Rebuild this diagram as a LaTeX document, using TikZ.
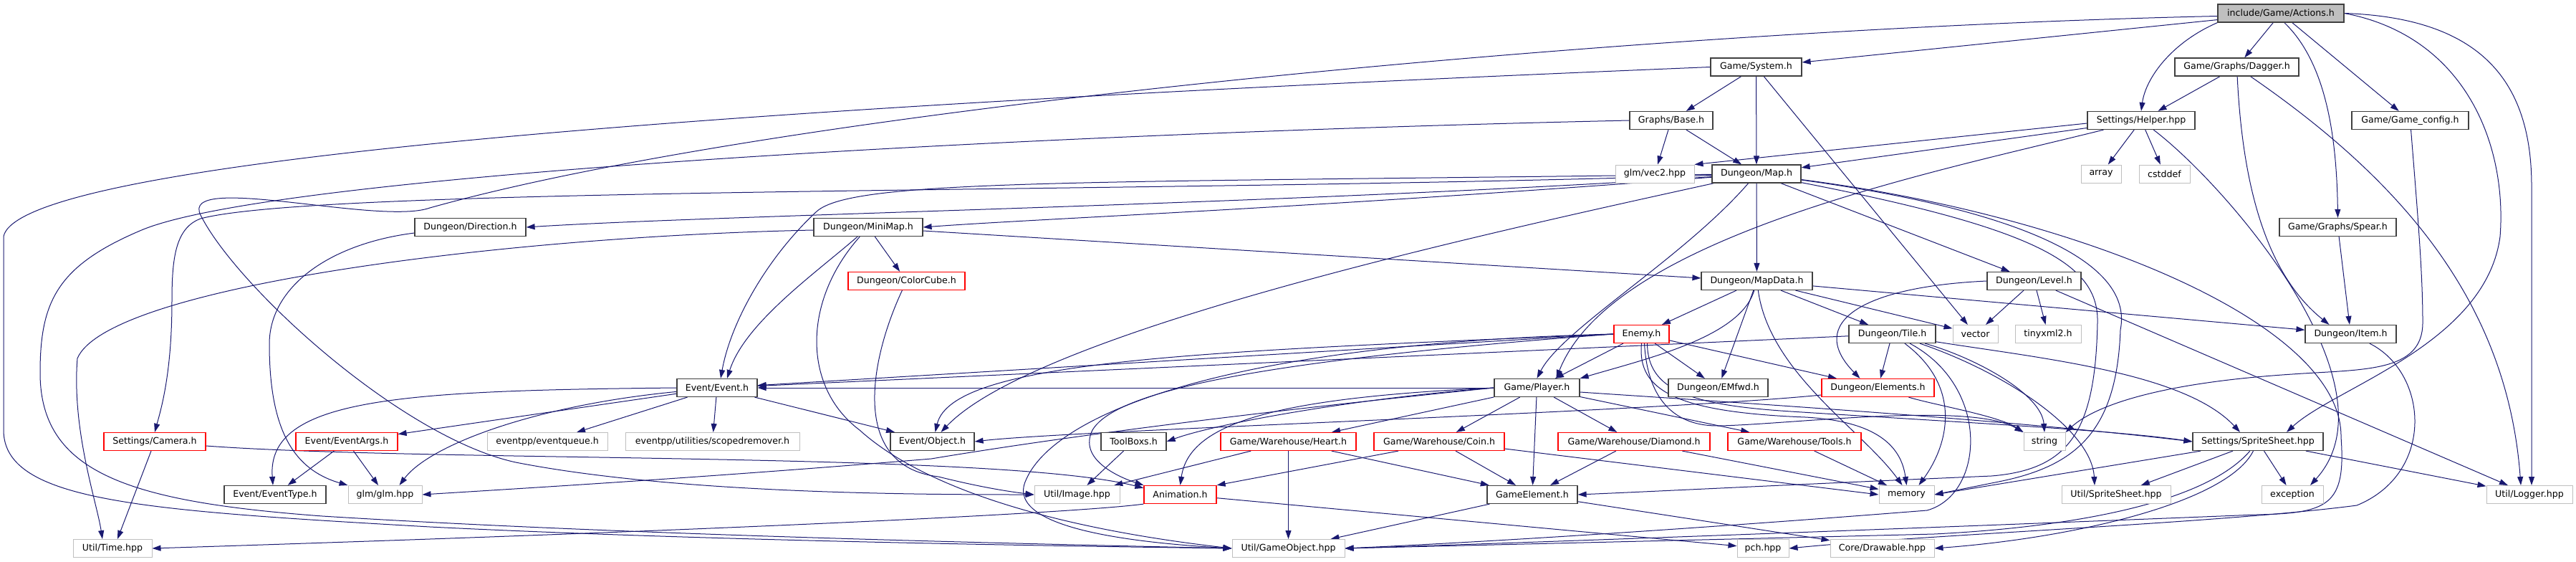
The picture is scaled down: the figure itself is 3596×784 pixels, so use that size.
\documentclass[tikz,border=0pt]{standalone}
\usepackage{fontspec}
\setmainfont{DejaVu Sans}
\usepackage{xcolor}
\definecolor{depEdge}{HTML}{191970}
\definecolor{fileDraw}{HTML}{404040}
\definecolor{sysDraw}{HTML}{BFBFBF}
\definecolor{rootFill}{HTML}{BFBFBF}
\definecolor{cutDraw}{HTML}{FF0000}
\usetikzlibrary{arrows.meta,backgrounds}
\newcommand{\graphfont}{\fontsize{12.6}{15}\selectfont}
\tikzset{
  filebox/.style={draw=fileDraw, fill=white, line width=1.2pt, minimum height=25pt, inner sep=0pt, font=\graphfont},
  cutbox/.style={filebox, draw=cutDraw},
  sysbox/.style={filebox, draw=sysDraw, line width=1pt},
  rootbox/.style={filebox, fill=rootFill},
  dep/.style={depEdge, line width=1pt, -{Triangle[length=12pt,width=8pt]}}
}

\begin{document}
\begin{tikzpicture}[x=1pt, y=-1pt]
  \useasboundingbox (0,0) rectangle (3596,784);
  \node[rootbox, minimum width=176pt] (actions) at (3184,18.5) {include/Game/Actions.h};
  \node[filebox, minimum width=127pt] (system) at (2451.5,93.5) {Game/System.h};
  \node[filebox, minimum width=173pt] (dagger) at (3122.5,93.5) {Game/Graphs/Dagger.h};
  \node[filebox, minimum width=116pt] (base) at (2333,168) {Graphs/Base.h};
  \node[filebox, minimum width=150pt] (helper) at (2989,168) {Settings/Helper.hpp};
  \node[filebox, minimum width=163pt] (gameconfig) at (3364.5,168) {Game/Game\_config.h};
  \node[sysbox, minimum width=110pt] (vec2) at (2310,242.5) {glm/vec2.hpp};
  \node[filebox, minimum width=124pt] (map) at (2452,242.5) {Dungeon/Map.h};
  \node[sysbox, minimum width=56pt] (array) at (2933,242.5) {array};
  \node[sysbox, minimum width=71pt] (cstddef) at (3021.5,242.5) {cstddef};
  \node[filebox, minimum width=155pt] (direction) at (656.5,317) {Dungeon/Direction.h};
  \node[filebox, minimum width=152pt] (minimap) at (1212,317) {Dungeon/MiniMap.h};
  \node[filebox, minimum width=163pt] (spear) at (3263.5,317) {Game/Graphs/Spear.h};
  \node[cutbox, minimum width=163pt] (colorcube) at (1265.5,392) {Dungeon/ColorCube.h};
  \node[filebox, minimum width=155pt] (mapdata) at (2452.5,392) {Dungeon/MapData.h};
  \node[filebox, minimum width=131pt] (level) at (2839.5,392) {Dungeon/Level.h};
  \node[cutbox, minimum width=77pt] (enemy) at (2291.5,466) {Enemy.h};
  \node[filebox, minimum width=121pt] (tile) at (2641.5,466) {Dungeon/Tile.h};
  \node[sysbox, minimum width=63pt] (vector) at (2757.5,466) {vector};
  \node[sysbox, minimum width=92pt] (tinyxml) at (2859,466) {tinyxml2.h};
  \node[filebox, minimum width=127pt] (item) at (3281.5,466) {Dungeon/Item.h};
  \node[filebox, minimum width=112pt] (event) at (1001,541) {Event/Event.h};
  \node[filebox, minimum width=119pt] (player) at (2145.5,541) {Game/Player.h};
  \node[filebox, minimum width=139pt] (emfwd) at (2398.5,541) {Dungeon/EMfwd.h};
  \node[cutbox, minimum width=157pt] (elements) at (2621.5,541) {Dungeon/Elements.h};
  \node[cutbox, minimum width=142pt] (camera) at (216,616) {Settings/Camera.h};
  \node[cutbox, minimum width=142pt] (eventargs) at (484,616) {Event/EventArgs.h};
  \node[sysbox, minimum width=168pt] (eventqueue) at (764,616) {eventpp/eventqueue.h};
  \node[sysbox, minimum width=243pt] (scoped) at (994.5,616) {eventpp/utilities/scopedremover.h};
  \node[filebox, minimum width=117pt] (object) at (1301.5,616) {Event/Object.h};
  \node[filebox, minimum width=91pt] (toolboxs) at (1582.5,616) {ToolBoxs.h};
  \node[cutbox, minimum width=189pt] (heart) at (1798.5,616) {Game/Warehouse/Heart.h};
  \node[cutbox, minimum width=182pt] (coin) at (2009,616) {Game/Warehouse/Coin.h};
  \node[cutbox, minimum width=212pt] (diamond) at (2281,616) {Game/Warehouse/Diamond.h};
  \node[cutbox, minimum width=186pt] (tools) at (2505,616) {Game/Warehouse/Tools.h};
  \node[sysbox, minimum width=58pt] (string) at (2854,616) {string};
  \node[filebox, minimum width=182pt] (spritesheet) at (3152,616) {Settings/SpriteSheet.hpp};
  \node[filebox, minimum width=142pt] (eventtype) at (384,690) {Event/EventType.h};
  \node[sysbox, minimum width=103pt] (glm) at (537.5,690) {glm/glm.hpp};
  \node[sysbox, minimum width=119pt] (image) at (1503.5,690) {Util/Image.hpp};
  \node[cutbox, minimum width=101pt] (animation) at (1647.5,690) {Animation.h};
  \node[filebox, minimum width=126pt] (gameelement) at (2139,690) {GameElement.h};
  \node[sysbox, minimum width=77pt] (memory) at (2661.5,690) {memory};
  \node[sysbox, minimum width=152pt] (utilsprite) at (2954,690) {Util/SpriteSheet.hpp};
  \node[sysbox, minimum width=86pt] (exception) at (3200,690) {exception};
  \node[sysbox, minimum width=120pt] (logger) at (3531,690) {Util/Logger.hpp};
  \node[sysbox, minimum width=110pt] (time) at (157,765) {Util/Time.hpp};
  \node[sysbox, minimum width=157pt] (gameobject) at (1798.5,765) {Util/GameObject.hpp};
  \node[sysbox, minimum width=72pt] (pch) at (2461,765) {pch.hpp};
  \node[sysbox, minimum width=145pt] (drawable) at (2627.5,765) {Core/Drawable.hpp};

  \begin{scope}[on background layer]
  \draw[dep] (actions) -- (system);
  \draw[dep] (actions) -- (dagger);
  \draw[dep] (actions.south west) .. controls (3030,60) and (2995,110) .. (helper.north);
  \draw[dep] (actions) -- (gameconfig);
  \draw[dep] (actions.290) .. controls (3250,90) and (3262,200) .. (spear.north);
  \draw[dep] (actions.east) .. controls (3440,50) and (3500,200) .. (3490,330) .. controls (3470,480) and (3260,540) .. ([xshift=40pt]spritesheet.north);
  \draw[dep] (actions.east) .. controls (3460,25) and (3534,110) .. (3534,260) -- ([xshift=3pt]logger.north);
  \draw[dep] ([yshift=-4pt]actions.west) .. controls (2300,40) and (1100,150) .. (600,290) .. controls (530,315) and (250,240) .. (280,300) .. controls (330,400) and (560,610) .. (720,645) .. controls (950,690) and (1300,690) .. (image.west);
  \draw[dep] (system) -- (base);
  \draw[dep] (system) -- (map);
  \draw[dep] (system) -- (vector);
  \draw[dep] (system.west) .. controls (1500,130) and (30,200) .. (5,330) -- (5,600) .. controls (5,700) and (200,712) .. (600,735) .. controls (1000,755) and (1500,762) .. (gameobject.west);
  \draw[dep] (dagger) -- (helper);
  \draw[dep] (dagger) .. controls (3130,250) and (3160,380) .. ([xshift=-30pt]item.north);
  \draw[dep] (dagger) .. controls (3350,250) and (3500,420) .. ([xshift=-12pt]logger.north);
  \draw[dep] (base) -- (vec2);
  \draw[dep] (base) -- (map);
  \draw[dep] (base.west) .. controls (1500,185) and (400,240) .. (200,320) .. controls (80,370) and (56,420) .. (56,520) .. controls (56,660) and (180,700) .. (450,720) .. controls (900,748) and (1500,760) .. (gameobject.west);
  \draw[dep] (helper) -- (map);
  \draw[dep] ([yshift=-4pt]helper.west) -- (vec2.north east);
  \draw[dep] (helper) -- (array);
  \draw[dep] (helper) -- (cstddef);
  \draw[dep] (helper) .. controls (2700,240) and (2250,330) .. ([xshift=27pt]player.north);
  \draw[dep] (helper) .. controls (3110,260) and (3350,540) .. ([xshift=25pt]exception.north);
  \draw[dep] (gameconfig) .. controls (3375,300) and (3382,380) .. (3382,450) .. controls (3382,520) and (3300,515) .. (3200,522) .. controls (3000,535) and (2920,570) .. (string.north east);
  \draw[dep] (spear) -- (item);
  \draw[dep] (map) .. controls (1800,285) and (1000,300) .. (direction.east);
  \draw[dep] (map) .. controls (1800,292) and (1450,305) .. (minimap.east);
  \draw[dep] (map) .. controls (1600,270) and (450,260) .. (280,305) .. controls (245,318) and (240,360) .. (240,420) .. controls (240,520) and (225,570) .. (camera.north);
  \draw[dep] (map) .. controls (1500,255) and (1190,250) .. (1140,295) .. controls (1070,360) and (1020,450) .. ([xshift=5pt]event.north);
  \draw[dep] (map) .. controls (2100,320) and (1450,460) .. ([xshift=12pt]object.north);
  \draw[dep] (map) .. controls (2350,360) and (2180,460) .. (player.north);
  \draw[dep] (map) -- (mapdata);
  \draw[dep] (map) -- (level);
  \draw[dep] (map) .. controls (2800,290) and (2980,360) .. (2960,460) .. controls (2955,600) and (2900,650) .. (2790,672) -- (memory.east);
  \draw[dep] (map) .. controls (2850,320) and (2930,370) .. (2928,450) .. controls (2925,600) and (2890,655) .. (2780,664) .. controls (2500,676) and (2300,686) .. (gameelement.east);
  \draw[dep] (map) .. controls (2900,300) and (3270,450) .. (3268,610) .. controls (3275,705) and (3250,716) .. (3150,718) .. controls (2800,732) and (2200,755) .. (gameobject.east);
  \draw[dep] (mapdata) -- (enemy);
  \draw[dep] (mapdata) .. controls (2430,470) and (2300,500) .. (player.north east);
  \draw[dep] (mapdata) -- (emfwd);
  \draw[dep] (mapdata) -- (tile);
  \draw[dep] (mapdata) .. controls (2470,520) and (2600,600) .. ([xshift=-6pt]memory.north);
  \draw[dep] (mapdata) -- (vector);
  \draw[dep] (mapdata) -- (item);
  \draw[dep] (level) -- (vector);
  \draw[dep] (level) -- (tinyxml);
  \draw[dep] (level.west) .. controls (2600,400) and (2520,450) .. ([xshift=-25pt]elements.north);
  \draw[dep] (level) -- (logger);
  \draw[dep] (tile) -- (event);
  \draw[dep] (tile) -- (elements);
  \draw[dep] (tile) .. controls (2760,500) and (2850,550) .. (string.north);
  \draw[dep] (tile) .. controls (2740,540) and (2720,620) .. ([xshift=17pt]memory.north);
  \draw[dep] (tile.-10) .. controls (2850,500) and (3050,520) .. ([xshift=-25pt]spritesheet.north);
  \draw[dep] (tile) .. controls (2800,520) and (2920,600) .. ([xshift=-30pt]utilsprite.north);
  \draw[dep] (tile) .. controls (2780,540) and (2770,690) .. (2690,712) .. controls (2400,735) and (2100,755) .. (gameobject.east);
  \draw[dep] (enemy) -- (player);
  \draw[dep] (enemy) -- (emfwd);
  \draw[dep] (enemy) -- (elements);
  \draw[dep] (enemy.west) -- (event);
  \draw[dep] (enemy.west) .. controls (1700,490) and (1330,500) .. ([xshift=4pt]object.north);
  \draw[dep] (enemy.west) .. controls (1800,500) and (1560,540) .. (1525,600) .. controls (1505,640) and (1560,665) .. (animation.north west);
  \draw[dep] (enemy.west) .. controls (1700,480) and (1470,580) .. (1432,670) .. controls (1400,740) and (1600,758) .. (gameobject.west);
  \draw[dep] (enemy.south) .. controls (2285,545) and (2340,575) .. (2520,582) .. controls (2630,588) and (2655,630) .. (memory.north);
  \draw[dep] ([xshift=8pt]enemy.south) .. controls (2300,545) and (2360,565) .. (2500,574) .. controls (2750,590) and (2950,600) .. (spritesheet.west);
  \draw[dep] ([xshift=4pt]enemy.south) .. controls (2300,560) and (2340,595) .. (2400,594) .. controls (2500,592) and (2750,560) .. (string.north west);
  \draw[dep] (player.west) -- (event);
  \draw[dep] (player.west) .. controls (1900,555) and (1700,590) .. (toolboxs.east);
  \draw[dep] (player.west) .. controls (1780,555) and (1660,590) .. (animation.north);
  \draw[dep] (player.west) .. controls (1700,580) and (1450,615) .. (1300,640) .. controls (1000,665) and (750,680) .. (glm.east);
  \draw[dep] (player) -- (heart);
  \draw[dep] (player) -- (coin);
  \draw[dep] (player) -- (diamond);
  \draw[dep] (player) -- (tools);
  \draw[dep] (player) -- (gameelement);
  \draw[dep] ([yshift=-6pt]player.east) .. controls (2400,560) and (2800,585) .. (spritesheet.west);
  \draw[dep] ([yshift=-10pt]elements.west) .. controls (2300,575) and (1500,600) .. (object.east);
  \draw[dep] (elements) .. controls (2700,565) and (2790,580) .. (string.north west);
  \draw[dep] ([xshift=-57pt]coin.south) -- (animation.north east);
  \draw[dep] (coin) -- (gameelement);
  \draw[dep] ([yshift=-10pt]coin.east) -- (memory.west);
  \draw[dep] (diamond) -- (gameelement);
  \draw[dep] (diamond) -- (memory);
  \draw[dep] (tools) -- (memory);
  \draw[dep] (heart) -- (image);
  \draw[dep] (heart) -- (gameelement);
  \draw[dep] (heart) -- (gameobject);
  \draw[dep] (toolboxs) -- (image);
  \draw[dep] (animation.south west) .. controls (1500,716) and (1000,740) .. (time.east);
  \draw[dep] (animation) -- (pch);
  \draw[dep] (gameelement) -- (gameobject);
  \draw[dep] (gameelement) -- (drawable);
  \draw[dep] (spritesheet) -- (utilsprite);
  \draw[dep] (spritesheet) -- (exception);
  \draw[dep] (spritesheet) -- (logger);
  \draw[dep] (spritesheet) -- (memory.east);
  \draw[dep] (spritesheet) .. controls (3110,700) and (2900,750) .. (drawable.east);
  \draw[dep] (spritesheet) .. controls (3080,700) and (2900,735) .. (2700,745) .. controls (2300,755) and (2000,762) .. (gameobject.east);
  \draw[dep] (item) .. controls (3390,520) and (3400,660) .. (3290,705) .. controls (3100,730) and (2700,745) .. (pch.east);
  \draw[dep] (colorcube) .. controls (1215,500) and (1185,650) .. (1310,665) .. controls (1370,680) and (1410,686) .. (image.west);
  \draw[dep] (minimap) -- (colorcube);
  \draw[dep] (minimap) .. controls (1140,380) and (1040,450) .. ([xshift=14pt]event.north);
  \draw[dep] ([yshift=-5pt]minimap.east) -- ([yshift=4pt]mapdata.west);
  \draw[dep] ([yshift=-4pt]minimap.west) .. controls (700,330) and (150,400) .. (108,500) .. controls (100,600) and (135,700) .. ([xshift=-14pt]time.north);
  \draw[dep] (minimap) .. controls (1120,420) and (1120,540) .. (1200,600) .. controls (1300,690) and (1500,740) .. (gameobject.west);
  \draw[dep] (camera) -- ([xshift=7pt]time.north);
  \draw[dep] ([yshift=-6pt]camera.east) .. controls (600,645) and (1400,630) .. ([yshift=-4pt]animation.north west);
  \draw[dep] (event.west) .. controls (560,545) and (372,555) .. ([xshift=-3pt]eventtype.north);
  \draw[dep] (event) .. controls (750,565) and (600,620) .. ([xshift=20pt]glm.north);
  \draw[dep] (event) -- (eventargs);
  \draw[dep] (event) -- (eventqueue);
  \draw[dep] (event) -- (scoped);
  \draw[dep] (event) -- (object);
  \draw[dep] (eventargs) -- (eventtype);
  \draw[dep] (eventargs) -- (glm);
  \draw[dep] ([yshift=-8pt]direction.west) .. controls (460,340) and (376,400) .. (376,480) .. controls (376,600) and (410,655) .. (glm.north west);
  \end{scope}
\end{tikzpicture}
\end{document}
